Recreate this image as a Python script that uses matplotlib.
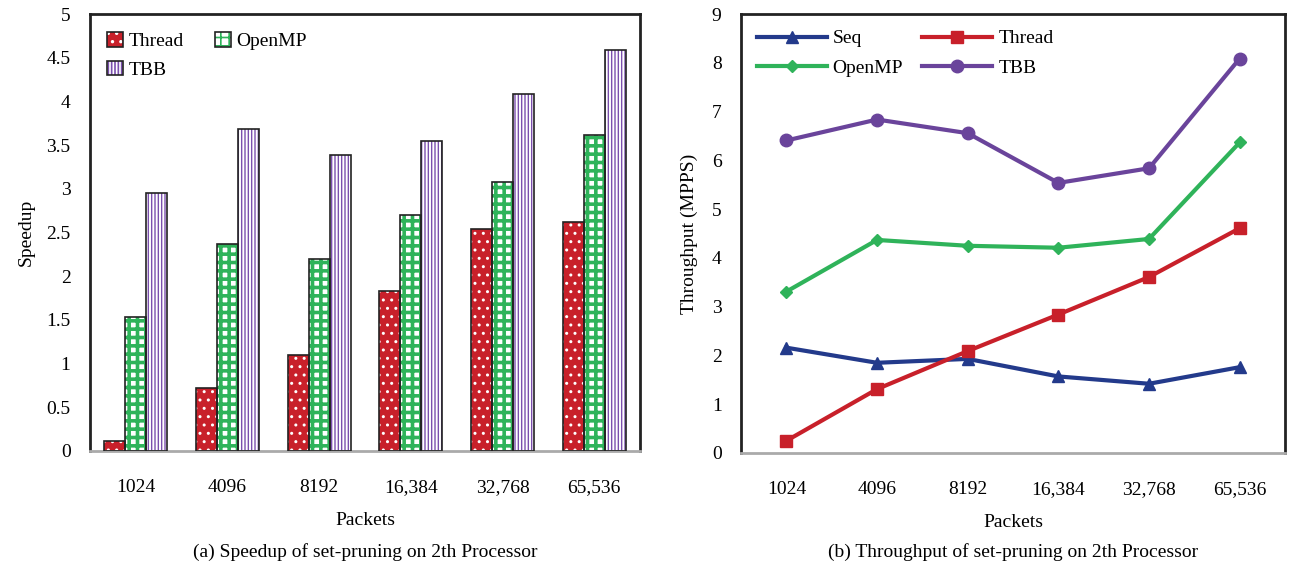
import matplotlib.pyplot as plt
import matplotlib.patches as mpatches
import numpy as np

plt.rcParams['font.family'] = ['Liberation Serif', 'DejaVu Serif']
plt.rcParams['hatch.linewidth'] = 1.2

packets = ['1024', '4096', '8192', '16,384', '32,768', '65,536']

# (a) speedup
speed_thread = [0.12, 0.72, 1.10, 1.83, 2.54, 2.62]
speed_openmp = [1.53, 2.37, 2.20, 2.70, 3.08, 3.62]
speed_tbb = [2.95, 3.69, 3.39, 3.55, 4.09, 4.59]

# (b) throughput (MPPS)
tp_seq = [2.16, 1.85, 1.93, 1.57, 1.42, 1.76]
tp_thread = [0.25, 1.31, 2.09, 2.84, 3.61, 4.61]
tp_openmp = [3.31, 4.37, 4.25, 4.21, 4.39, 6.37]
tp_tbb = [6.41, 6.84, 6.56, 5.54, 5.84, 8.09]

FS = 14

fig = plt.figure(figsize=(12.89, 5.69), dpi=100)
ax1 = fig.add_axes([0.0698, 0.2074, 0.4267, 0.7676])
ax2 = fig.add_axes([0.5749, 0.2039, 0.4220, 0.7711])

x = np.arange(len(packets))
w = 0.23

bar_styles = [
    ('Thread', speed_thread, -w, '#c8202a', 'white', '..', 1.0),
    ('OpenMP', speed_openmp, 0, 'white', '#2fb35a', '++', 2.6),
    ('TBB', speed_tbb, w, 'white', '#7b4fae', '|||||', 1.0),
]
leg = {}
for label, vals, off, fc, hc, hatch, hlw in bar_styles:
    with plt.rc_context({'hatch.linewidth': hlw}):
        # fill + hatch first, dark outline on top
        ax1.bar(x + off, vals, width=w, color=fc, edgecolor=hc, hatch=hatch,
                linewidth=0, zorder=2)
        p1 = mpatches.Patch(facecolor=fc, edgecolor=hc, hatch=hatch, linewidth=0)
    ax1.bar(x + off, vals, width=w, facecolor='none', edgecolor='#222222',
            linewidth=1.2, zorder=3)
    p2 = mpatches.Patch(facecolor='none', edgecolor='#222222', linewidth=1.2)
    leg[label] = (p1, p2)

order1 = ['Thread', 'TBB', 'OpenMP']
ax1.legend([leg[k] for k in order1], order1, loc='upper left', ncol=2,
           frameon=False, fontsize=FS, handlelength=0.8, handleheight=0.8,
           handletextpad=0.3, columnspacing=1.6, borderaxespad=0.5,
           labelspacing=0.55)

ax1.set_xlim(-0.5, 5.5)
ax1.set_ylim(0, 5)
ax1.set_yticks(np.arange(0, 5.01, 0.5))
ax1.set_yticklabels(['0', '0.5', '1', '1.5', '2', '2.5', '3', '3.5', '4', '4.5', '5'])
ax1.set_xticks(x)
ax1.set_xticklabels(packets)
ax1.set_ylabel('Speedup', fontsize=FS, labelpad=8)
ax1.set_xlabel('Packets', fontsize=FS, labelpad=12)

# (b) lines
line_styles = [
    ('Seq', tp_seq, '#233a8b', '^', 9),
    ('Thread', tp_thread, '#c8202a', 's', 8),
    ('OpenMP', tp_openmp, '#2fb35a', 'D', 6.5),
    ('TBB', tp_tbb, '#6a449b', 'o', 9),
]
lines = {}
for label, vals, c, m, ms in line_styles:
    ln, = ax2.plot(x, vals, color=c, marker=m, markersize=ms, linewidth=3,
                   label=label, zorder=3)
    lines[label] = ln
order2 = ['Seq', 'OpenMP', 'Thread', 'TBB']
ax2.legend([lines[k] for k in order2], order2, loc='upper left', ncol=2,
           frameon=False, fontsize=FS, handlelength=3.6, handletextpad=0.3,
           columnspacing=1.0, borderaxespad=0.4, labelspacing=0.6)

ax2.set_xlim(-0.5, 5.5)
ax2.set_ylim(0, 9)
ax2.set_yticks(range(0, 10))
ax2.set_xticks(x)
ax2.set_xticklabels(packets)
ax2.set_ylabel('Throughput (MPPS)', fontsize=FS, labelpad=10)
ax2.set_xlabel('Packets', fontsize=FS, labelpad=12)

for ax in (ax1, ax2):
    for s in ('left', 'top', 'right'):
        ax.spines[s].set_color('#222222')
        ax.spines[s].set_linewidth(2)
    ax.spines['bottom'].set_color('#aaaaaa')
    ax.spines['bottom'].set_linewidth(2)
    ax.tick_params(length=0, labelsize=FS)
    ax.tick_params(axis='y', pad=14)
    ax.tick_params(axis='x', pad=20)

fig.text(0.2832, 0.022, '(a) Speedup of set-pruning on 2th Processor',
         ha='center', fontsize=FS)
fig.text(0.786, 0.022, '(b) Throughput of set-pruning on 2th Processor',
         ha='center', fontsize=FS)

plt.savefig('out.png', dpi=100)
